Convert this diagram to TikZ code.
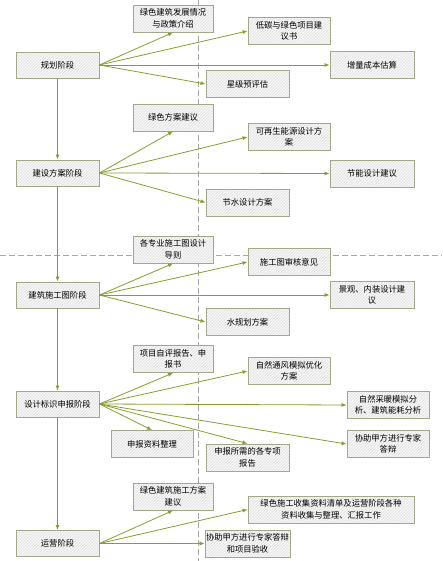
\documentclass[tikz,border=0pt]{standalone}
\usepackage{fontspec}
\newfontfamily\cjk{Noto Sans CJK SC}
\usepackage{tikz}
\usetikzlibrary{arrows.meta}
\usetikzlibrary{patterns}
\usetikzlibrary{shadows}
\definecolor{olive}{HTML}{8C9B2E}
\definecolor{boxline}{HTML}{A4A88A}
\definecolor{boxfill}{HTML}{E8E8E8}
\tikzset{>={Latex[length=5pt,width=4pt]}}
\tikzset{
  stage/.style={draw=boxline,line width=0.9pt,
    drop shadow={shadow xshift=0.8pt,shadow yshift=-0.8pt,opacity=0.2},
    preaction={fill=boxfill},
    preaction={pattern=north east lines,pattern color=white},
    minimum width=83pt,minimum height=26pt,inner sep=1pt,
    align=center,font=\cjk\fontsize{8.3}{11.5}\selectfont},
  task/.style={stage,minimum width=82pt,minimum height=27pt},
  link/.style={draw=olive,line width=0.8pt,->},
  guide/.style={draw=black!35,line width=0.7pt,dash pattern=on 6pt off 3pt}
}

\begin{document}
\begin{tikzpicture}[x=1pt,y=-1pt]
    \useasboundingbox (0,0) rectangle (442,561);

    % guide lines
    \draw [guide] (198,0) -- (198,561);
    \draw [guide] (0,255) -- (442,255);

    % stages
    \node [stage] (s1) at (57.5,65) {规划阶段};
    \node [stage] (s2) at (57.5,173) {建设方案阶段};
    \node [stage] (s3) at (57.5,295) {建筑施工图阶段};
    \node [stage] (s4) at (57.5,404) {设计标识申报阶段};
    \node [stage] (s5) at (57.5,543.5) {运营阶段};

    \draw [link] (s1) -- (s2);
    \draw [link] (s2) -- (s3);
    \draw [link] (s3) -- (s4);
    \draw [link] (s4) -- (s5);

    % planning
    \node [task,minimum width=80pt] (a1) at (173,18.5) {绿色建筑发展情况\\与政策介绍};
    \node [task] (b1) at (289,31) {低碳与绿色项目建\\议书};
    \node [task,minimum width=84pt] (c1) at (372,65) {增量成本估算};
    \node [task,minimum width=83pt] (d1) at (247.5,84) {星级预评估};

    \draw [link] (s1.east) -- (a1.south);
    \draw [link] (s1.east) -- (b1.west);
    \draw [link] (s1.east) -- (c1.west);
    \draw [link] (s1.east) -- (d1.west);

    % scheme
    \node [task,minimum width=80pt] (a2) at (173,117.5) {绿色方案建议};
    \node [task] (b2) at (289,137) {可再生能源设计方\\案};
    \node [task,minimum width=84pt] (c2) at (372,173.5) {节能设计建议};
    \node [task,minimum width=83pt] (d2) at (247.5,202.5) {节水设计方案};

    \draw [link] (s2.east) -- (a2.south);
    \draw [link] (s2.east) -- (b2.west);
    \draw [link] (s2.east) -- (c2.west);
    \draw [link] (s2.east) -- (d2.west);

    % construction drawings
    \node [task,minimum width=80pt] (a3) at (173,249.5) {各专业施工图设计\\导则};
    \node [task] (b3) at (289,262) {施工图审核意见};
    \node [task,minimum width=84pt] (c3) at (372,295) {景观、内装设计建\\议};
    \node [task,minimum width=83pt] (d3) at (247.5,322) {水规划方案};

    \draw [link] (s3.east) -- (a3.south);
    \draw [link] (s3.east) -- (b3.west);
    \draw [link] (s3.east) -- (c3.west);
    \draw [link] (s3.east) -- (d3.west);

    % label application
    \node [task,minimum width=80pt] (a4) at (173,359) {项目自评报告、申\\报书};
    \node [task] (b4) at (289,371) {自然通风模拟优化\\方案};
    \node [task] (c4) at (388,405) {自然采暖模拟分\\析、建筑能耗分析};
    \node [task] (d4) at (388,444) {协助甲方进行专家\\答辩};
    \node [task] (e4) at (152,444) {申报资料整理};
    \node [task,minimum width=83pt] (f4) at (247.5,457.5) {申报所需的各专项\\报告};

    \draw [link] (s4.east) -- (a4.south);
    \draw [link] (s4.east) -- (b4.west);
    \draw [link] (s4.east) -- (c4.west);
    \draw [link] (s4.east) -- (d4.west);
    \draw [link] (s4.east) -- (e4.north);
    \draw [link] (s4.east) -- (f4.north);

    % operation
    \node [task,minimum width=80pt] (a5) at (173,496.5) {绿色建筑施工方案\\建议};
    \node [task,minimum width=166pt] (b5) at (331,509.5) {绿色施工收集资料清单及运营阶段各种\\资料收集与整理、汇报工作};
    \node [task,minimum width=83pt] (c5) at (247.5,543.5) {协助甲方进行专家答辩\\和项目验收};

    \draw [link] (s5.east) -- (a5.south);
    \draw [link] (s5.east) -- (b5.west);
    \draw [link] (s5.east) -- (c5.west);

  \end{tikzpicture}
\end{document}
